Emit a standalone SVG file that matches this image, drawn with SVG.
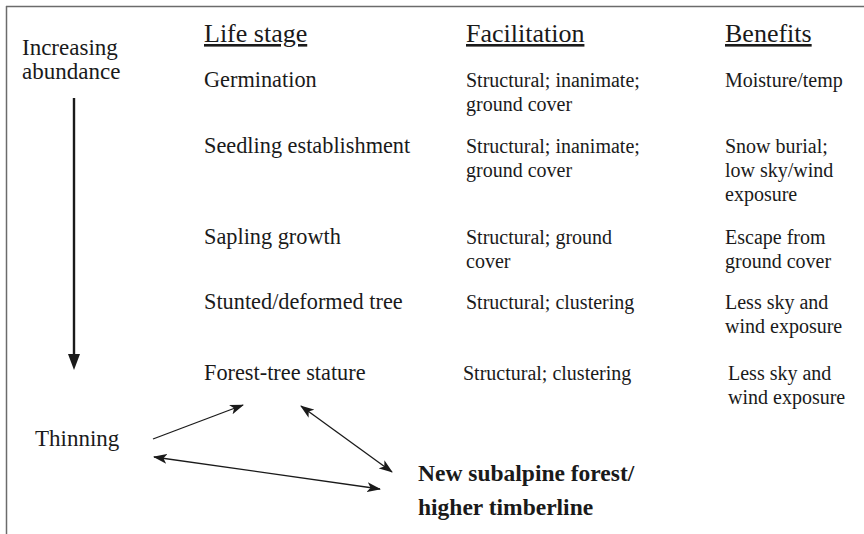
<svg xmlns="http://www.w3.org/2000/svg" width="864" height="534" viewBox="0 0 864 534">
<style>
text{font-family:"Liberation Serif","Times New Roman",serif;fill:#1a1a1a}
.b{font-size:20px}
.l{font-size:22.3px}
.s{font-size:23px}
.h{font-size:26px;text-decoration:underline}
.bold{font-size:23.5px;font-weight:bold}
.frame{stroke:#6b6b6b;stroke-width:1.5;fill:none}
.thin{stroke:#1a1a1a;stroke-width:1.3;fill:none}
</style>
<defs>
<marker id="ah" markerWidth="14" markerHeight="10" refX="13" refY="5" orient="auto-start-reverse" markerUnits="userSpaceOnUse">
<path d="M0,0 L14,5 L0,10 L3.5,5 z" fill="#1a1a1a"/>
</marker>
</defs>
<g id="frame">
<line class="frame" x1="6" y1="6.5" x2="864" y2="6.5"/>
<line class="frame" x1="6.5" y1="6" x2="6.5" y2="534"/>
</g>
<g id="headers">
<text class="h" x="204" y="42">Life stage</text>
<text class="h" x="466" y="42">Facilitation</text>
<text class="h" x="725" y="42">Benefits</text>
</g>
<g id="abundance">
<text class="s" x="22" y="55">Increasing</text>
<text class="s" x="22" y="79">abundance</text>
</g>
<g id="row-germination">
<text class="l" x="204" y="87">Germination</text>
<text class="b" x="466" y="87">Structural; inanimate;</text>
<text class="b" x="466" y="111">ground cover</text>
<text class="b" x="725" y="87">Moisture/temp</text>
</g>
<g id="row-seedling">
<text class="l" x="204" y="153">Seedling establishment</text>
<text class="b" x="466" y="153">Structural; inanimate;</text>
<text class="b" x="466" y="177">ground cover</text>
<text class="b" x="725" y="153">Snow burial;</text>
<text class="b" x="725" y="177">low sky/wind</text>
<text class="b" x="725" y="201">exposure</text>
</g>
<g id="row-sapling">
<text class="l" x="204" y="244">Sapling growth</text>
<text class="b" x="466" y="244">Structural; ground</text>
<text class="b" x="466" y="268">cover</text>
<text class="b" x="725" y="244">Escape from</text>
<text class="b" x="725" y="268">ground cover</text>
</g>
<g id="row-stunted">
<text class="l" x="204" y="309">Stunted/deformed tree</text>
<text class="b" x="466" y="309">Structural; clustering</text>
<text class="b" x="725" y="309">Less sky and</text>
<text class="b" x="725" y="333">wind exposure</text>
</g>
<g id="row-forest">
<text class="l" x="204" y="380">Forest-tree stature</text>
<text class="b" x="463" y="380">Structural; clustering</text>
<text class="b" x="728" y="380">Less sky and</text>
<text class="b" x="728" y="404">wind exposure</text>
</g>
<g id="thinning">
<text class="s" x="35" y="446">Thinning</text>
</g>
<g id="new-forest">
<text class="bold" x="418" y="481">New subalpine forest/</text>
<text class="bold" x="418" y="515">higher timberline</text>
</g>
<g id="connectors">
<line x1="74" y1="98" x2="74" y2="355" stroke="#1a1a1a" stroke-width="2.4"/>
<path d="M68,354 L80,354 L74,370 z" fill="#1a1a1a"/>
<line class="thin" x1="153" y1="439" x2="243" y2="405" marker-end="url(#ah)"/>
<line class="thin" x1="154" y1="457" x2="380" y2="489" marker-start="url(#ah)" marker-end="url(#ah)"/>
<line class="thin" x1="301" y1="406" x2="392" y2="472" marker-start="url(#ah)" marker-end="url(#ah)"/>
</g>
</svg>
